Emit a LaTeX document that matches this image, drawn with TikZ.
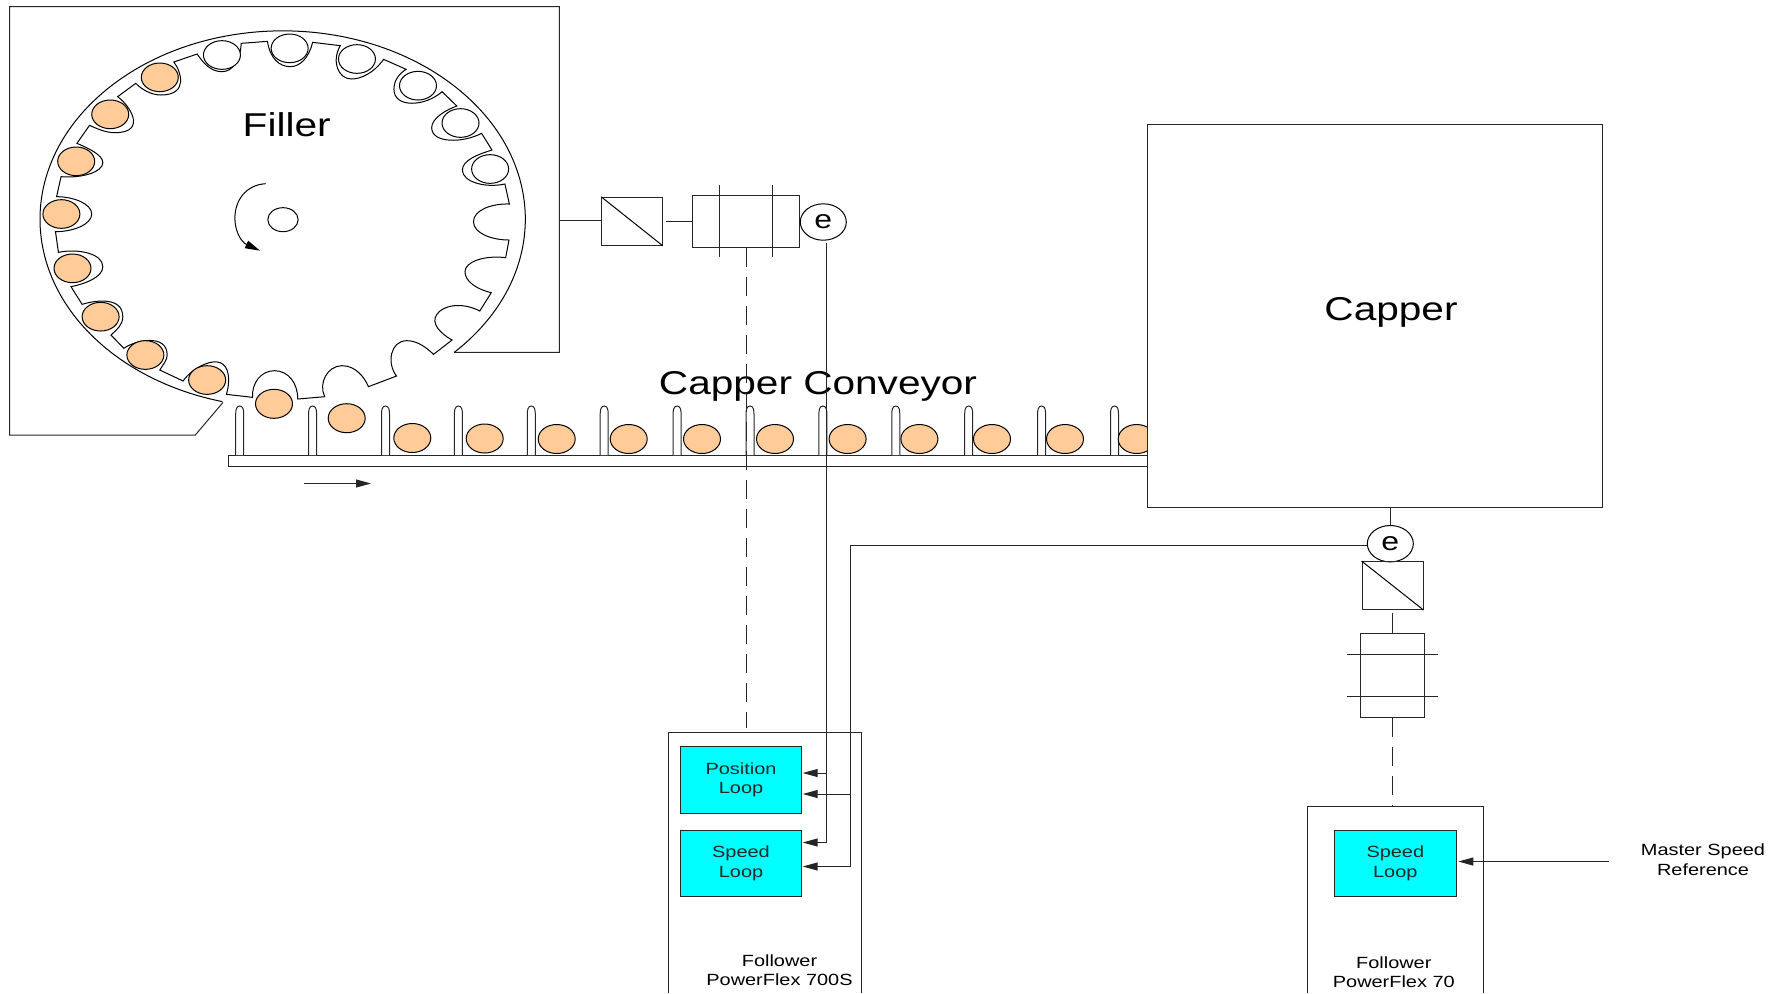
\documentclass[tikz,border=0pt]{standalone}
\usepackage{fontspec}
\setmainfont{Liberation Sans}[FakeStretch=1.23]
\usetikzlibrary{calc,arrows.meta,positioning,shapes.geometric}
\definecolor{bottlefill}{HTML}{FFCC99}
\definecolor{loopfill}{HTML}{00FFFF}

\begin{document}
\begin{tikzpicture}[
    x=0.5pt, y=-0.5pt,
    >={Triangle[length=7.5pt,width=4pt]},
    wire/.style={line width=0.5pt, black!85},
    dashwire/.style={wire, dash pattern=on 9.5pt off 5pt},
    thinline/.style={line width=0.5pt},
    bottle/.style={thinline, fill=bottlefill},
    emptybottle/.style={thinline, fill=white},
    peg/.style={wire, fill=white},
    smalltext/.style={font=\fontsize{8.1}{9.75}\selectfont, align=center},
    bigtext/.style={font=\fontsize{16.5}{18}\selectfont},
    loopbox/.style={wire, draw, fill=loopfill, inner sep=0pt, minimum width=60.7pt, minimum height=33.3pt, smalltext},
    encoder/.style={thinline, draw, ellipse, fill=white, inner sep=0pt, minimum width=23pt, minimum height=18.2pt, font=\fontsize{13}{13}\selectfont},
    gearbox/.style={wire, draw, inner sep=0pt}
]
\useasboundingbox (0,0) rectangle (1784,993);

% =========================================================================
% 1. FILLER (coordinates read from a 3x crop)
% =========================================================================
\begin{scope}[x=0.18495pt, y=-0.16667pt]
    % Housing
    \draw[wire] (1228,1057) -- (1512,1057) -- (1512,20) -- (26,20) -- (26,1305)
        -- (528,1305) -- (603,1207);

    % Outer rim
    \draw[thinline] (1228,1057) arc[start angle=45, end angle=-255.6, x radius=656, y radius=565];

    % Star wheel with its 20 pockets
    \draw[thinline]
        (683,1192) .. controls (680,1150) and (705,1112) .. (742,1112) .. controls (780,1112) and (805,1150) .. (805,1197)
     -- (878,1190) .. controls (860,1150) and (885,1097) .. (925,1097) .. controls (960,1097) and (985,1130) .. (996,1160)
     -- (1072,1128) .. controls (1045,1090) and (1055,1022) .. (1100,1022) .. controls (1130,1022) and (1155,1045) .. (1172,1063)
     -- (1222,1020) .. controls (1190,1000) and (1165,970) .. (1180,945) .. controls (1195,915) and (1250,905) .. (1297,933)
     -- (1328,878) .. controls (1290,868) and (1257,845) .. (1257,815) .. controls (1257,785) and (1310,765) .. (1367,773)
     -- (1376,720) .. controls (1330,720) and (1280,700) .. (1280,665) .. controls (1280,630) and (1330,610) .. (1377,612)
     -- (1365,552) .. controls (1310,565) and (1250,545) .. (1250,510) .. controls (1250,480) and (1295,462) .. (1330,450)
     -- (1302,400) .. controls (1250,430) and (1167,430) .. (1167,383) .. controls (1167,355) and (1205,330) .. (1235,318)
     -- (1195,275) .. controls (1150,320) and (1065,325) .. (1065,268) .. controls (1065,240) and (1080,220) .. (1098,208)
     -- (1037,178) .. controls (1010,220) and (975,237) .. (950,237) .. controls (915,237) and (895,185) .. (920,137)
     -- (845,127) .. controls (835,175) and (810,200) .. (785,200) .. controls (755,200) and (730,175) .. (723,124)
     -- (652,130) .. controls (650,180) and (630,215) .. (600,215) .. controls (570,215) and (550,190) .. (533,162)
     -- (470,186) .. controls (490,215) and (510,285) .. (435,285) .. controls (410,285) and (385,270) .. (367,250)
     -- (318,290) .. controls (350,315) and (400,398) .. (310,398) .. controls (285,398) and (260,385) .. (242,376)
     -- (208,430) .. controls (240,445) and (278,465) .. (278,488) .. controls (278,515) and (225,535) .. (165,530)
     -- (153,590) .. controls (200,590) and (248,612) .. (248,642) .. controls (248,672) and (200,695) .. (150,695)
     -- (158,757) .. controls (210,745) and (278,760) .. (278,800) .. controls (278,830) and (235,850) .. (192,860)
     -- (222,913) .. controls (260,900) and (332,890) .. (332,950) .. controls (332,975) and (315,990) .. (300,1005)
     -- (335,1045) .. controls (365,1020) and (452,1000) .. (452,1065) .. controls (452,1080) and (440,1095) .. (432,1110)
     -- (495,1143) .. controls (520,1100) and (618,1040) .. (618,1140) .. controls (618,1160) and (615,1170) .. (612,1183)
     -- cycle;

    % Bottles in the pockets
    \foreach \bx/\by in {432/232, 298/343, 206/484, 166/642, 196/805, 272/950, 393/1065, 560/1140}
        \draw[bottle] (\bx,\by) ellipse (50 and 43);
    \foreach \bx/\by in {600/165, 783/145, 965/177, 1130/257, 1245/369, 1325/507}
        \draw[emptybottle] (\bx,\by) ellipse (50 and 43);

    % Hub and direction of rotation
    \draw[thinline] (765,659) ellipse (41 and 36);
    \draw[thinline, ->] (718,551) .. controls (665,555) and (635,600) .. (635,655)
        .. controls (635,690) and (650,725) .. (703,752);
\end{scope}

\node[bigtext] (fillerLabel) at (286.7,124.5) {Filler};

% =========================================================================
% 2. CAPPER CONVEYOR
% =========================================================================
\draw[wire, fill=white] (228.3,455) rectangle (1148,466);

\foreach \n in {0,...,12}
    \draw[peg] ({239.7+72.9*\n-4},455) -- ({239.7+72.9*\n-4},414)
        to[out=90,in=180] ({239.7+72.9*\n},406)
        to[out=0,in=90] ({239.7+72.9*\n+4},414) -- ({239.7+72.9*\n+4},455);

\foreach \bx/\by in {274/403.8, 346.7/418.2, 412.3/438, 484.7/438.5, 556.7/439, 628.7/439,
                     702/439, 775/439, 847.6/439, 919.4/439, 992/439, 1065/439, 1136.7/439}
    \draw[bottle] (\bx,\by) ellipse (18.5 and 14.5);

\coordinate (flowStart) at (304.3,483.5);
\coordinate (flowEnd) at (371,483.5);
\draw[wire, ->] (flowStart) -- (flowEnd);

\node[bigtext] (conveyorLabel) at (818,386) {Capper Conveyor};

% =========================================================================
% 3. CAPPER
% =========================================================================
\node[gearbox, fill=white, minimum width=227.5pt, minimum height=191.6pt] (capper) at (1375,315.8) {};
\node[bigtext] (capperLabel) at (1391,312) {Capper};

% =========================================================================
% 4. FILLER DRIVE LINE
% =========================================================================
\coordinate (fillerShaft) at (559.3,220);
\node[gearbox, minimum width=30.3pt, minimum height=24pt] (gear1) at (632,221.3) {};
\draw[thinline] (gear1.north west) -- (gear1.south east);
\node[gearbox, minimum width=53.2pt, minimum height=25.7pt] (motor1) at (745.8,221.3) {};
\draw[wire] (719.3,185.3) -- (719.3,257.3);
\draw[wire] (772.3,185.3) -- (772.3,257.3);
\node[encoder] (enc1) at (823.3,222) {e};

\coordinate (gear1Out) at (666,221.3);
\draw[wire] (fillerShaft) -- (gear1.west |- fillerShaft);
\draw[wire] (gear1Out) -- (motor1.west);

% =========================================================================
% 5. CAPPER DRIVE LINE
% =========================================================================
\node[encoder] (enc2) at (1390.3,543.7) {e};
\node[gearbox, minimum width=30.5pt, minimum height=24pt] (gear2) at (1392.5,585.5) {};
\draw[thinline] (gear2.north west) -- (gear2.south east);
\node[gearbox, minimum width=32.3pt, minimum height=42pt] (motor2) at (1392.3,675.5) {};
\draw[wire] (1347,654.5) -- (1437.7,654.5);
\draw[wire] (1347,696.5) -- (1437.7,696.5);

\coordinate (gear2Out) at (1392.3,612.5);
\draw[wire] (capper.south -| enc2) -- (enc2.north);
\draw[wire] (gear2Out) -- (motor2.north);

% =========================================================================
% 6. DRIVES
% =========================================================================
\draw[wire] (668.3,993) -- (668.3,732) -- (861,732) -- (861,993);
\draw[wire] (1307,993) -- (1307,806.5) -- (1483,806.5) -- (1483,993);

\node[loopbox] (posLoop) at (741,780) {Position\\Loop};
\node[loopbox] (spdLoop) at (741,863.3) {Speed\\Loop};
\node[loopbox] (masterLoop) at (1395.3,863.3) {Speed\\Loop};

\node[smalltext] (drive1Label) at (779.5,970) {Follower\\PowerFlex 700S};
\node[smalltext] (drive2Label) at (1393.8,972) {Follower\\PowerFlex 70};
\node[smalltext] (masterLabel) at (1703,859.5) {Master Speed\\Reference};

% Mechanical links
\coordinate (drive1Top) at (746,728.3);
\coordinate (drive2Top) at (1392.3,806);
\draw[dashwire] (motor1.south -| drive1Top) -- (drive1Top);
\draw[dashwire] (motor2.south) -- (drive2Top);

% Encoder feedback
\coordinate (enc1Out) at (826,243.3);
\coordinate (enc2Out) at (1367.3,545.5);
\coordinate (feedbackBus) at (850,545.5);
\coordinate (posIn1) at (802.7,773);
\coordinate (posIn2) at (802.7,794);
\coordinate (spdIn1) at (802.7,842.5);
\coordinate (spdIn2) at (802.7,866.5);

\draw[wire, ->] (enc1Out) |- (spdIn1);
\draw[wire, ->] (enc1Out |- posIn1) -- (posIn1);
\draw[wire, ->] (enc2Out) -- (feedbackBus) |- (spdIn2);
\draw[wire, ->] (feedbackBus |- posIn2) -- (posIn2);

% Master reference
\coordinate (masterRef) at (1609.3,861.5);
\coordinate (masterIn) at (1458.3,861.5);
\draw[wire, ->] (masterRef) -- (masterIn);

\end{tikzpicture}
\end{document}
